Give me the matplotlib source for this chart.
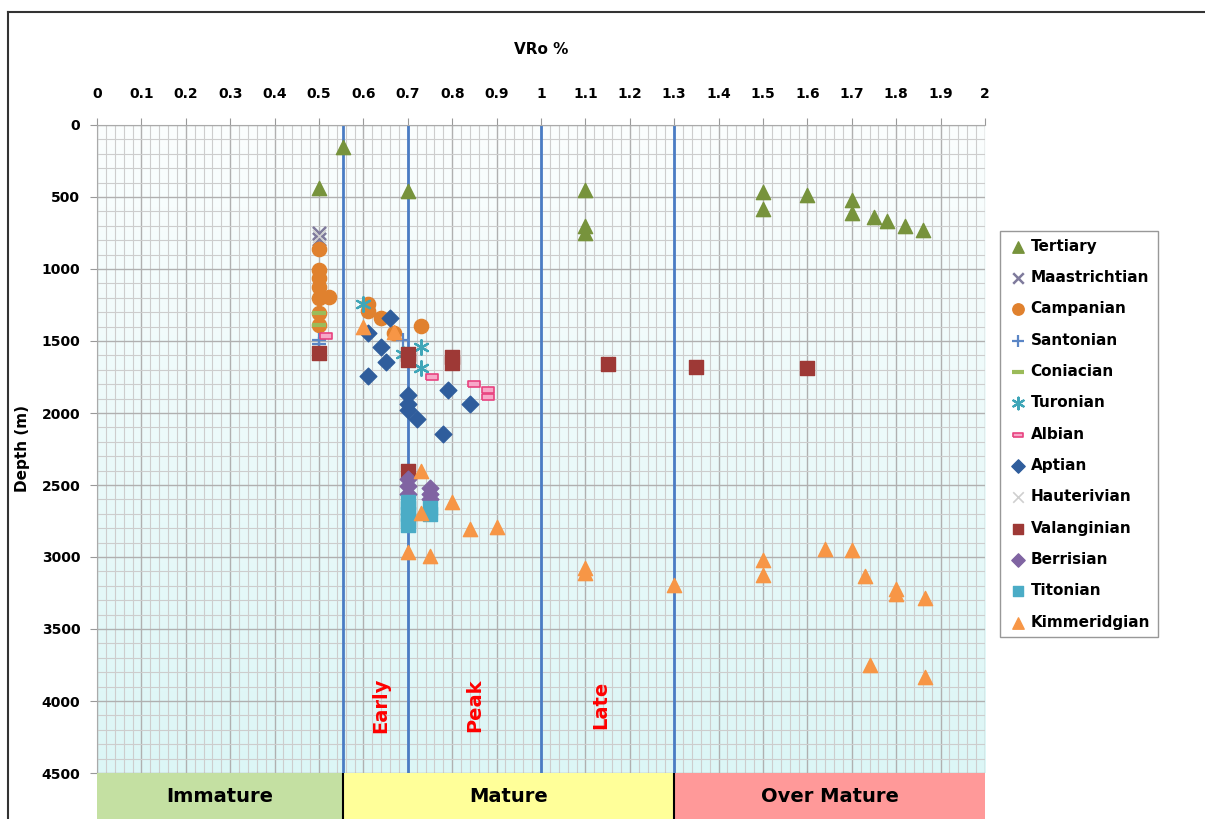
import numpy as np
import matplotlib
matplotlib.use('Agg')
from matplotlib import pyplot as plt
from matplotlib.lines import Line2D
from matplotlib.patches import Rectangle
from matplotlib.ticker import MultipleLocator

# VRo % vs depth (m) by stage
tertiary_x = [0.555, 0.5, 0.7, 1.1, 1.1, 1.1, 1.5, 1.5, 1.6, 1.7, 1.7, 1.75, 1.78, 1.82, 1.86]
tertiary_y = [150, 440, 460, 450, 700, 750, 465, 580, 485, 520, 610, 640, 665, 700, 730]
maastrichtian_x = [0.5, 0.5]
maastrichtian_y = [750, 790]
campanian_x = [0.5, 0.5, 0.5, 0.5, 0.5, 0.5, 0.5, 0.522, 0.61, 0.61, 0.64, 0.67, 0.73]
campanian_y = [860, 1005, 1065, 1125, 1200, 1305, 1390, 1195, 1245, 1295, 1340, 1445, 1395]
santonian_x = [0.5, 0.5, 0.69]
santonian_y = [1490, 1520, 1495]
coniacian_x = [0.5, 0.5]
coniacian_y = [1305, 1390]
turonian_x = [0.6, 0.69, 0.73, 0.73]
turonian_y = [1240, 1590, 1540, 1690]
albian_x = [0.515, 0.755, 0.85, 0.88, 0.88]
albian_y = [1465, 1750, 1800, 1840, 1890]
aptian_x = [0.66, 0.61, 0.64, 0.65, 0.61, 0.79, 0.7, 0.7, 0.7, 0.84, 0.72, 0.78]
aptian_y = [1340, 1445, 1540, 1645, 1740, 1840, 1875, 1935, 1980, 1935, 2045, 2145]
hauterivian_x = [0.5]
hauterivian_y = [770]
valanginian_x = [0.5, 0.7, 0.7, 0.8, 0.8, 1.15, 1.35, 1.6, 0.7]
valanginian_y = [1585, 1590, 1635, 1610, 1655, 1660, 1680, 1690, 2405]
berrisian_x = [0.7, 0.7, 0.7, 0.75, 0.75, 0.75]
berrisian_y = [2460, 2510, 2560, 2520, 2560, 2600]
titonian_x = [0.7, 0.7, 0.7, 0.7, 0.7, 0.75, 0.75]
titonian_y = [2620, 2660, 2700, 2740, 2780, 2660, 2700]
kimmeridgian_x = [0.6, 0.67, 0.73, 0.73, 0.8, 0.84, 0.9, 0.7, 0.75, 1.1, 1.1, 1.3,
                  1.5, 1.5, 1.64, 1.7, 1.73, 1.8, 1.8, 1.865, 1.74, 1.865]
kimmeridgian_y = [1400, 1440, 2400, 2695, 2615, 2805, 2795, 2965, 2990, 3075, 3110, 3195,
                  3020, 3125, 2945, 2950, 3135, 3225, 3255, 3285, 3750, 3835]

zones = ['Immature', 'Mature', 'Over Mature']
zone_edges = [0, 0.555, 1.3, 2]
zone_colors = ['#c4e0a2', '#ffff99', '#ff9999']
stage_lines = [0.555, 0.7, 1.0, 1.3]
stage_labels = ['Early', 'Peak', 'Late']
stage_label_x = [0.64, 0.85, 1.135]

fig = plt.figure(figsize=(12.05, 8.19), dpi=100)
ax = fig.add_axes([97/1205, 1-773/819, 888/1205, 648/819])

# gradient background
grad = np.linspace(0, 1, 256).reshape(-1, 1)
ax.imshow(grad, extent=[0, 2, 4500, 0], aspect='auto', zorder=0,
          cmap=matplotlib.colors.LinearSegmentedColormap.from_list('bg', ['#fbfefe', '#dcf6f6']))

ax.set_xlim(0, 2)
ax.set_ylim(4500, 0)
ax.xaxis.set_major_locator(MultipleLocator(0.1))
ax.xaxis.set_minor_locator(MultipleLocator(0.02))
ax.yaxis.set_major_locator(MultipleLocator(500))
ax.yaxis.set_minor_locator(MultipleLocator(100))
ax.grid(which='major', color='#b0b0b0', lw=1.0, zorder=1)
ax.grid(which='minor', color='#cdcdcd', lw=0.8, zorder=1)
ax.set_axisbelow(True)
ax.xaxis.tick_top()
ax.tick_params(axis='x', which='major', length=5, pad=12, labelsize=10, color='#999999')
ax.tick_params(axis='y', which='major', length=5, pad=7, labelsize=10, color='#999999')
ax.tick_params(which='minor', length=0)
ax.set_xticks(np.round(np.arange(0, 2.01, 0.1), 1))
ax.set_xticklabels([('%g' % v) for v in np.round(np.arange(0, 2.01, 0.1), 1)])
for lab in ax.get_xticklabels() + ax.get_yticklabels():
    lab.set_fontweight('bold')
for s in ['right', 'bottom']:
    ax.spines[s].set_visible(False)
for s in ['left', 'top']:
    ax.spines[s].set_color('#aaaaaa')
ax.set_ylabel('Depth (m)', fontsize=11, fontweight='bold', labelpad=8)

for x in stage_lines:
    ax.axvline(x, color='#4a7cc4', lw=2, zorder=2)
for lab, x in zip(stage_labels, stage_label_x):
    ax.text(x, 4030, lab, rotation=90, color='red', fontsize=14, fontweight='bold',
            ha='center', va='center', zorder=3)

albian_marker = [(-1, -0.45), (1, -0.45), (1, 0.45), (-1, 0.45), (-1, -0.45)]
series = [
    ('Tertiary', tertiary_x, tertiary_y, dict(marker='^', color='#77933c', s=105)),
    ('Maastrichtian', maastrichtian_x, maastrichtian_y, dict(marker='x', color='#7f7a9c', s=90, linewidths=1.8)),
    ('Campanian', campanian_x, campanian_y, dict(marker='o', color='#e0812e', s=105)),
    ('Santonian', santonian_x, santonian_y, dict(marker='+', color='#5b86c6', s=110, linewidths=1.6)),
    ('Coniacian', coniacian_x, coniacian_y, dict(marker='_', color='#9bbb59', s=110, linewidths=3)),
    ('Turonian', turonian_x, turonian_y, dict(marker=(6, 2, 0), color='#3fa6b8', s=110, linewidths=1.6)),
    ('Albian', albian_x, albian_y, dict(marker=albian_marker, facecolor='#f7a8c8', edgecolor='#e8427f', s=70, linewidths=1.2)),
    ('Aptian', aptian_x, aptian_y, dict(marker='D', color='#2f5d9c', s=72)),
    ('Hauterivian', hauterivian_x, hauterivian_y, dict(marker='x', color='#cfcfcf', s=90, linewidths=1.2)),
    ('Valanginian', valanginian_x, valanginian_y, dict(marker='s', color='#9e3936', s=90)),
    ('Berrisian', berrisian_x, berrisian_y, dict(marker='D', color='#8064a2', s=72)),
    ('Titonian', titonian_x, titonian_y, dict(marker='s', color='#4bacc6', s=90)),
    ('Kimmeridgian', kimmeridgian_x, kimmeridgian_y, dict(marker='^', color='#f79646', s=105)),
]
handles = []
for name, xs, ys, kw in series:
    h = ax.scatter(xs, ys, label=name, zorder=4, **kw)
    handles.append(h)

leg = fig.legend(handles=handles, loc='upper left', bbox_to_anchor=(1000/1205, 1-231/819),
                 frameon=True, fancybox=False, edgecolor='#7f7f7f', markerscale=0.8,
                 prop={'weight': 'bold', 'size': 11}, labelspacing=1.07, handletextpad=0.1,
                 handlelength=1.4, borderpad=0.5, borderaxespad=0)
leg.get_frame().set_linewidth(1.0)

fig.text(541/1205, 1-50/819, 'VRo %', ha='center', va='center', fontsize=11, fontweight='bold')

# maturity bands under the plot
bx = fig.add_axes([97/1205, 0, 888/1205, 46/819])
bx.set_xlim(0, 2)
bx.set_ylim(0, 1)
bx.axis('off')
for i, z in enumerate(zones):
    bx.add_patch(Rectangle((zone_edges[i], 0), zone_edges[i+1]-zone_edges[i], 1,
                           color=zone_colors[i], lw=0))
    bx.text((zone_edges[i] + zone_edges[i+1]) / 2, 0.5, z, ha='center', va='center',
            fontsize=14, fontweight='bold')
for x in zone_edges[1:3]:
    bx.axvline(x, color='black', lw=1.5)

# frame around the figure
fig.add_artist(Line2D([8/1205, 8/1205], [0, 1-12/819], color='#333333', lw=1.5))
fig.add_artist(Line2D([8/1205, 1], [1-12/819, 1-12/819], color='#333333', lw=1.5))

fig.savefig('out.png', dpi=100)
